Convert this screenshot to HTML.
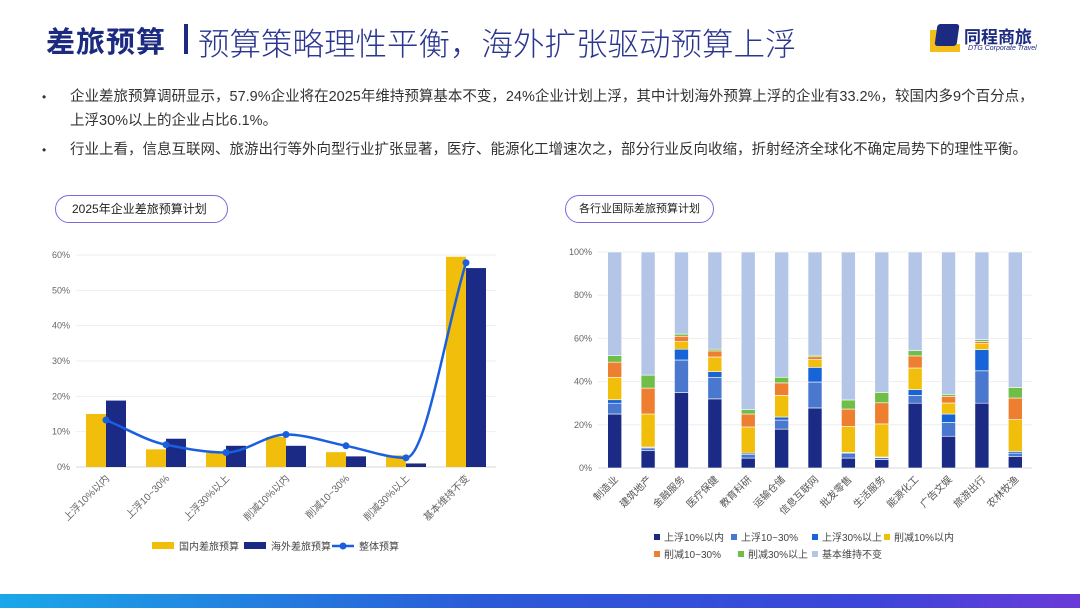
<!DOCTYPE html>
<html><head><meta charset="utf-8">
<style>
body{margin:0;width:1080px;height:608px;background:#fff;position:relative;overflow:hidden;font-family:"Liberation Sans","Noto Sans CJK SC",sans-serif;}
.abs{position:absolute;}
.title{left:46px;top:19px;font-size:29px;font-weight:bold;color:#1c2a80;letter-spacing:1px;white-space:nowrap;}
.sep{left:184px;top:24px;width:4px;height:30px;background:#1c2a80;}
.sub{left:198px;top:19px;font-size:31.5px;color:#2a3590;font-weight:300;white-space:nowrap;}
.bul{left:42px;font-size:14.5px;color:#333;line-height:24px;width:995px;}
.bul span.d{position:absolute;left:0;font-size:12px;}
.bul div{margin-left:28px;}
.pill{height:28px;border-radius:15px;border:1.5px solid #7a6ae0;font-size:12px;color:#222;line-height:26px;padding-left:16px;box-sizing:border-box;white-space:nowrap;}
svg text{font-family:"Liberation Sans","Noto Sans CJK SC",sans-serif;}
</style></head><body>
<div class="abs title">差旅预算</div>
<div class="abs sep"></div>
<div class="abs sub">预算策略理性平衡，海外扩张驱动预算上浮</div>
<div class="abs" style="left:930px;top:24px;">
<div class="abs" style="left:0;top:6px;width:10px;height:22px;background:#f2be1a;"></div>
<div class="abs" style="left:0;top:20px;width:30px;height:8px;background:#f2be1a;"></div>
<div class="abs" style="left:6px;top:0;width:22px;height:22px;background:#1c2a80;border-radius:3px;transform:skewX(-8deg);"></div>
<div class="abs" style="left:34px;top:-1px;font-size:17px;font-weight:bold;color:#1c2a80;white-space:nowrap;">同程商旅</div>
<div class="abs" style="left:38px;top:21px;font-size:7px;font-style:italic;color:#1c2a80;white-space:nowrap;">DTG Corporate Travel</div>
</div>
<div class="abs bul" style="top:85px;"><span class="d">•</span><div>企业差旅预算调研显示，57.9%企业将在2025年维持预算基本不变，24%企业计划上浮，其中计划海外预算上浮的企业有33.2%，较国内多9个百分点，上浮30%以上的企业占比6.1%。</div></div>
<div class="abs bul" style="top:138px;width:1040px;"><span class="d">•</span><div>行业上看，信息互联网、旅游出行等外向型行业扩张显著，医疗、能源化工增速次之，部分行业反向收缩，折射经济全球化不确定局势下的理性平衡。</div></div>
<div class="abs pill" style="left:55px;top:195px;width:173px;">2025年企业差旅预算计划</div>
<div class="abs pill" style="left:565px;top:195px;width:149px;font-size:11px;padding-left:13px;">各行业国际差旅预算计划</div>
<svg class="abs" style="left:0;top:0" width="1080" height="608" id="svg"></svg>
<div class="abs" style="left:0;top:594px;width:1080px;height:14px;background:linear-gradient(90deg,#1aa8e8,#2b5ad8 45%,#3c46d8 80%,#6a3ad8);"></div>
<script>
const leftCats=["上浮10%以内","上浮10~30%","上浮30%以上","削减10%以内","削减10~30%","削减30%以上","基本维持不变"];
const domestic=[15,5,4,8.5,4.2,3.3,59.5];
const overseas=[18.8,8,6,6,3,1,56.3];
const overall=[13.3,6.3,4.1,9.2,6,2.6,57.8];
const leftTicks=[0,10,20,30,40,50,60];
const rightCats=["制造业","建筑地产","金融服务","医疗保健","教育科研","运输仓储","信息互联网","批发零售","生活服务","能源化工","广告文娱","旅游出行","农林牧渔"];
const seriesNames=["上浮10%以内","上浮10~30%","上浮30%以上","削减10%以内","削减10~30%","削减30%以上","基本维持不变"];
const up10=[25,8,35,32,4.6,18,27.8,4.6,3.9,30,14.7,30,5.4];
const up1030=[5,1.3,15,10,1.6,4.2,12,2.3,0.9,3.6,6.4,15,1.5];
const up30=[1.6,0.4,5,2.6,0.7,1.4,6.8,0.3,0.3,2.7,3.9,9.8,0.8];
const cut10=[10.4,15.3,3.5,6.8,12.1,10,3.6,12.1,15.3,10,5.1,2.8,14.7];
const cut1030=[7,12,2.5,2.8,6,5.8,1.3,8,9.8,5.6,3.1,1,10];
const cut30=[3,6,1,0.8,2,2.6,0.7,4.2,4.8,2.4,0.9,0.8,4.9];
const rightTicks=[0,20,40,60,80,100];
const colors=["#1b2a85","#4a78cf","#1764d8","#f2be0c","#ee7f30","#6fbe47","#b4c6e8"];
const NS="http://www.w3.org/2000/svg";
const svg=document.getElementById('svg');
function mk(t,a,p){const e=document.createElementNS(NS,t);for(const k in a)e.setAttribute(k,a[k]);(p||svg).appendChild(e);return e;}
// Left chart
const L={x0:76,x1:496,y0:467,y1:255,max:60};
const ly=v=>L.y0-(v/L.max)*(L.y0-L.y1);
const lbw=(L.x1-L.x0)/leftCats.length;
const lx=i=>L.x0+lbw*(i+0.5);
leftTicks.forEach(t=>{
 const g=mk('line',{x1:L.x0,x2:L.x1,y1:ly(t),y2:ly(t),stroke:t?'#eeeeee':'#d8d8d8','stroke-width':1});
 
 const tx=mk('text',{x:L.x0-6,y:ly(t)+3,'font-size':9,fill:'#666','text-anchor':'end'});tx.textContent=t+'%';
 
});
leftCats.forEach((c,i)=>{
 const b1=mk('rect',{x:lx(i)-20,y:ly(domestic[i]),width:20,height:L.y0-ly(domestic[i]),fill:'#f2be0c'});
 
 const b2=mk('rect',{x:lx(i),y:ly(overseas[i]),width:20,height:L.y0-ly(overseas[i]),fill:'#1b2a85'});
 
 const t=mk('text',{x:0,y:0,'font-size':10,fill:'#666','text-anchor':'end',transform:`translate(${lx(i)+4},${L.y0+12}) rotate(-45)`});t.textContent=c;
 
});
// monotone cubic line
const pts=overall.map((v,i)=>[lx(i),ly(v)]);
const n=pts.length,dx=lbw;
const sl=[];for(let i=0;i<n-1;i++)sl.push((pts[i+1][1]-pts[i][1])/dx);
const m=[];for(let i=0;i<n;i++){if(i==0)m.push(sl[0]);else if(i==n-1)m.push(sl[n-2]);else m.push(sl[i-1]*sl[i]<=0?0:2/(1/sl[i-1]+1/sl[i]));}
let d=`M${pts[0][0]},${pts[0][1]}`;
for(let i=0;i<n-1;i++){d+=` C${pts[i][0]+dx/3},${pts[i][1]+m[i]*dx/3} ${pts[i+1][0]-dx/3},${pts[i+1][1]-m[i+1]*dx/3} ${pts[i+1][0]},${pts[i+1][1]}`;}
const ln=mk('path',{d:d,fill:'none',stroke:'#1a5fe0','stroke-width':2.5});

pts.forEach(p=>{const c=mk('circle',{cx:p[0],cy:p[1],r:3.5,fill:'#1a5fe0'});});
// left legend
const lg=[[152,'#f2be0c','国内差旅预算'],[244,'#1b2a85','海外差旅预算']];
lg.forEach(l=>{const r=mk('rect',{x:l[0],y:542,width:22,height:7,fill:l[1]});
 const t=mk('text',{x:l[0]+27,y:550,'font-size':10,fill:'#444'});t.textContent=l[2];});
const ll=mk('line',{x1:332,x2:354,y1:546,y2:546,stroke:'#1a5fe0','stroke-width':2.5});
const lc=mk('circle',{cx:343,cy:546,r:3.5,fill:'#1a5fe0'});
const lt=mk('text',{x:359,y:550,'font-size':10,fill:'#444'});lt.textContent='整体预算';
// Right chart
const R={x0:598,x1:1032,y0:468,y1:252,max:100};
const ry=v=>R.y0-(v/R.max)*(R.y0-R.y1);
const rbw=(R.x1-R.x0)/rightCats.length;
const rx=i=>R.x0+rbw*(i+0.5);
rightTicks.forEach(t=>{
 const g=mk('line',{x1:R.x0,x2:R.x1,y1:ry(t),y2:ry(t),stroke:t?'#eeeeee':'#d8d8d8','stroke-width':1});
 
 const tx=mk('text',{x:R.x0-6,y:ry(t)+3,'font-size':9,fill:'#666','text-anchor':'end'});tx.textContent=t+'%';
 
});
const series=[up10,up1030,up30,cut10,cut1030,cut30];
rightCats.forEach((c,i)=>{
 let acc=0;
 series.forEach((s,k)=>{const v=s[i];
  const r=mk('rect',{x:rx(i)-7,y:ry(acc+v),width:14,height:ry(acc)-ry(acc+v),fill:colors[k],stroke:'#fff','stroke-width':0.6});
  acc+=v;});
 const r=mk('rect',{x:rx(i)-7,y:ry(100),width:14,height:ry(acc)-ry(100),fill:colors[6],stroke:'#fff','stroke-width':0.6});
 
 const t=mk('text',{x:0,y:0,'font-size':10,fill:'#555','text-anchor':'end',transform:`translate(${rx(i)+4},${R.y0+12}) rotate(-45)`});t.textContent=c;
 
});
const legPos=[[654,541],[731,541],[812,541],[884,541],[654,558],[738,558],[812,558]];
seriesNames.forEach((n,k)=>{const p=legPos[k];
 const r=mk('rect',{x:p[0],y:p[1]-7,width:6,height:6,fill:colors[k]});
 const t=mk('text',{x:p[0]+10,y:p[1],'font-size':10,fill:'#444'});t.textContent=n;});
</script>
</body></html>
